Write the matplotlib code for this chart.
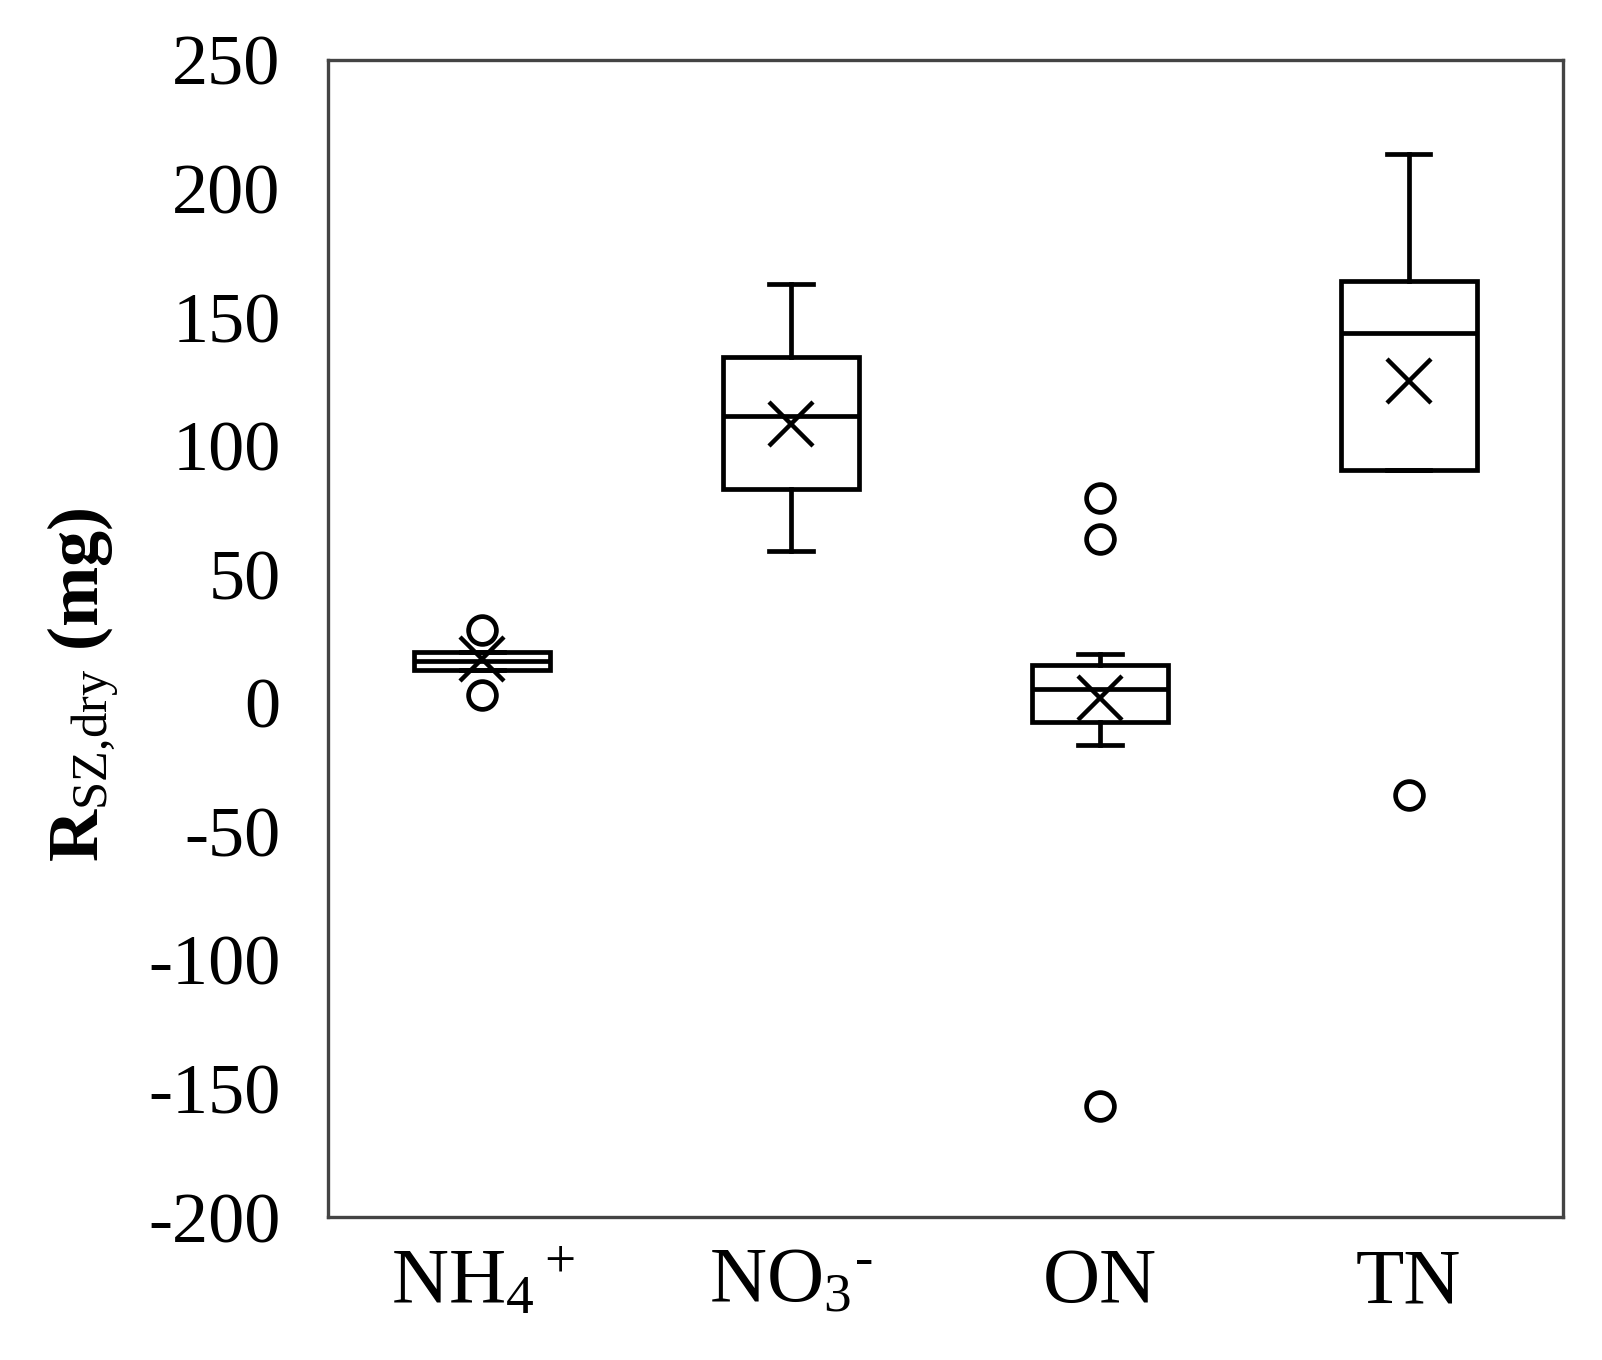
import matplotlib.pyplot as plt

plt.rcParams['font.family'] = ['Liberation Serif', 'DejaVu Serif']
plt.rcParams['mathtext.fontset'] = 'custom'
plt.rcParams['mathtext.rm'] = 'Liberation Serif'
plt.rcParams['mathtext.it'] = 'Liberation Serif:italic'
plt.rcParams['mathtext.bf'] = 'Liberation Serif:bold'

# Box statistics (mg)
categories = ['NH$_4$$^+$', 'NO$_3$$^{\u2010}$', 'ON', 'TN']
q1 = [12.7, 83.0, -7.4, 90.5]
medians = [16.2, 111.7, 5.2, 144.0]
q3 = [19.7, 134.4, 14.7, 164.2]
whis_low = [12.7, 59.1, -16.4, 90.5]
whis_high = [19.7, 162.9, 18.8, 213.4]
means = [17.0, 108.4, 1.7, 125.3]
outliers = [[28.5, 3.0], [], [79.5, 63.7, -157.0], [-35.9]]
y_ticks = [-200, -150, -100, -50, 0, 50, 100, 150, 200, 250]

stats = []
for i, name in enumerate(categories):
    stats.append({'label': name, 'q1': q1[i], 'med': medians[i], 'q3': q3[i],
                  'whislo': whis_low[i], 'whishi': whis_high[i],
                  'mean': means[i], 'fliers': outliers[i]})

fig = plt.figure(figsize=(16.02, 13.6), dpi=100)
ax = fig.add_axes([0.2047, 0.1051, 0.771, 0.8508])

lw = 3.4
ax.bxp(stats, widths=0.44, showmeans=True, patch_artist=True, capwidths=0.14,
       boxprops=dict(facecolor='white', edgecolor='black', linewidth=lw),
       medianprops=dict(color='black', linewidth=lw),
       whiskerprops=dict(color='black', linewidth=lw),
       capprops=dict(color='black', linewidth=lw),
       meanprops=dict(marker='x', markersize=32, markeredgecolor='black',
                      markeredgewidth=3.2),
       flierprops=dict(marker='o', markersize=20, markerfacecolor='none',
                       markeredgecolor='black', markeredgewidth=3.4))

ax.set_ylim(-200, 250)
ax.set_xlim(0.5, 4.5)
ax.set_yticks(y_ticks)
ax.set_yticklabels([str(t) for t in y_ticks])
ax.tick_params(axis='y', length=0, pad=34, labelsize=52)
ax.tick_params(axis='x', length=0, pad=22, labelsize=57)

for s in ax.spines.values():
    s.set_color('#444444')
    s.set_linewidth(2.4)

ax.set_ylabel(r'$\mathbf{R}_{\mathrm{SZ{,}dry}}$ (mg)', fontsize=52,
              fontweight='bold')
ax.yaxis.set_label_coords(-0.167, 0.46)

fig.savefig('out.png', dpi=100, facecolor='white')
